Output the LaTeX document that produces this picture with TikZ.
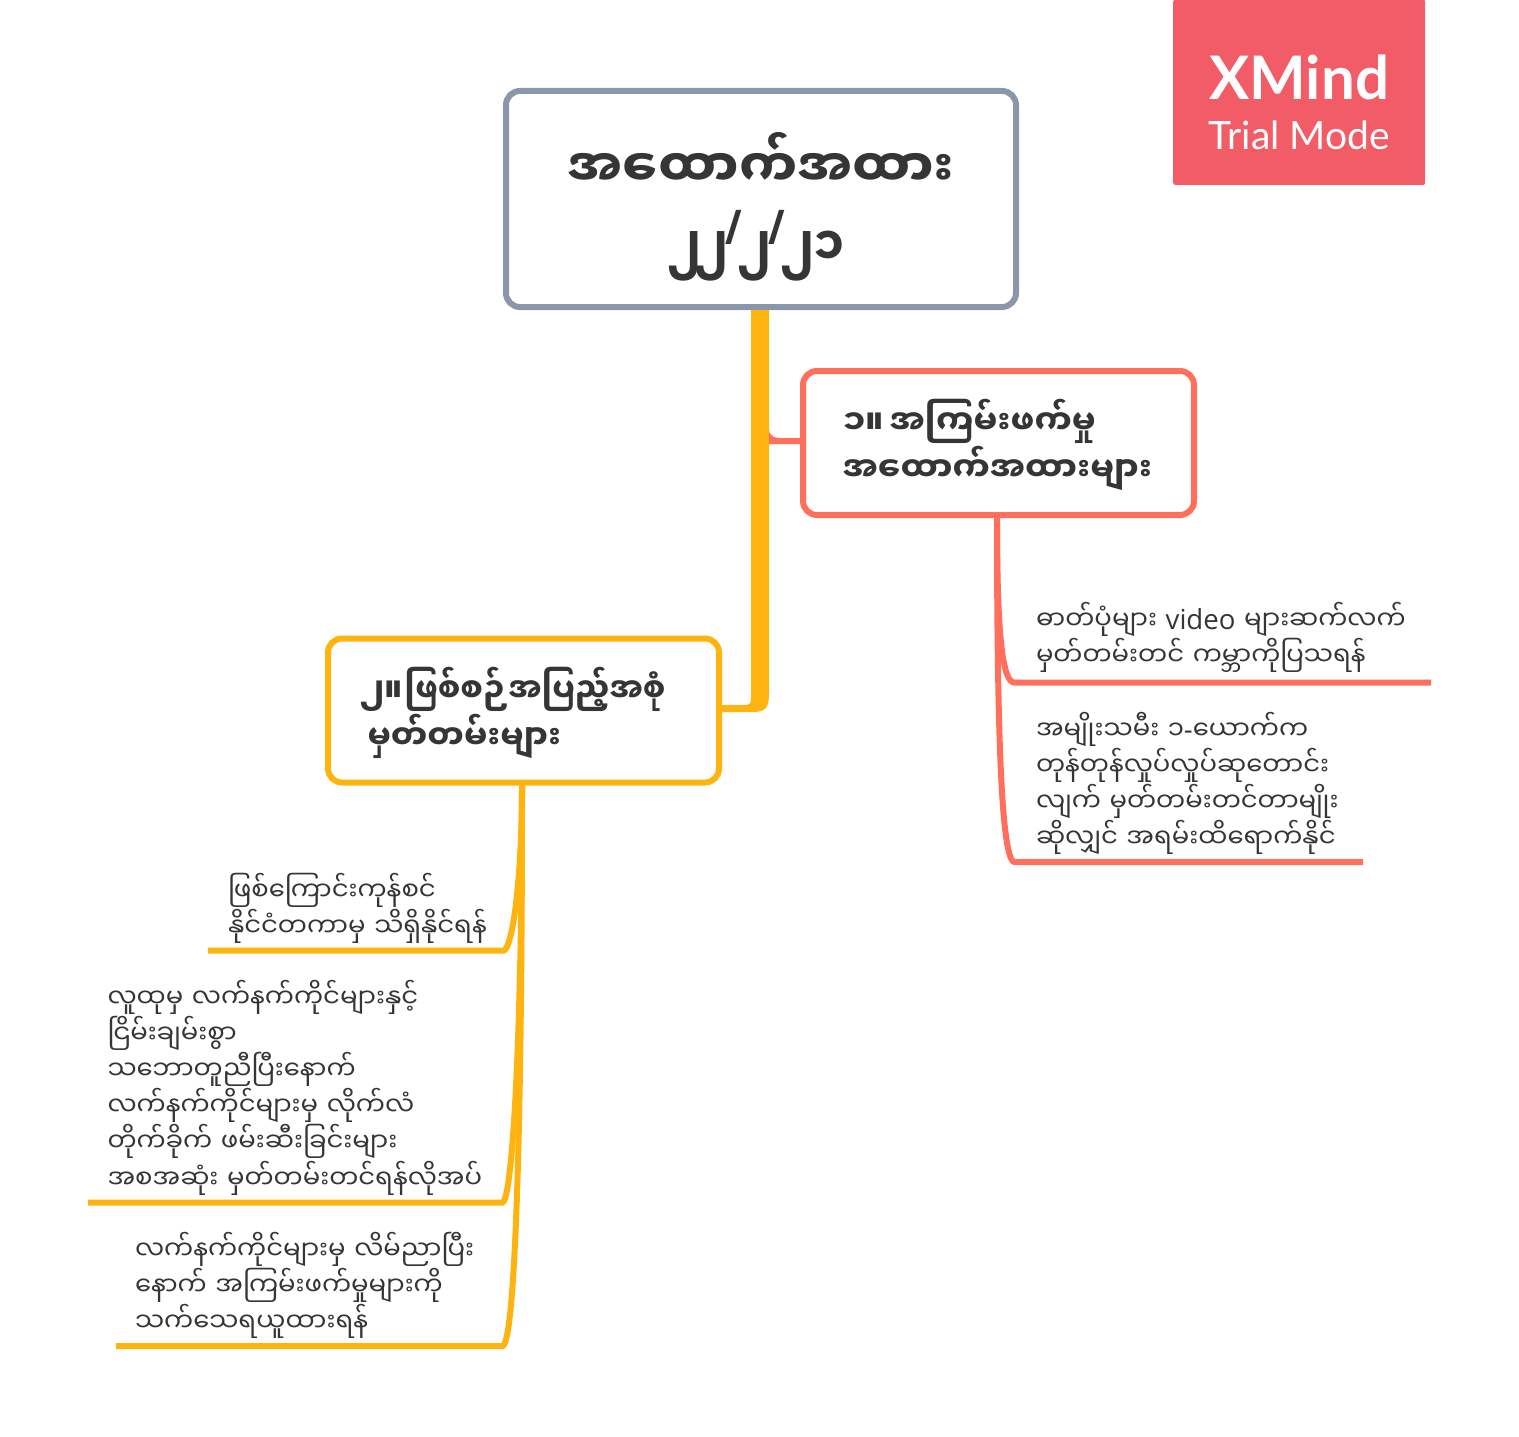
\documentclass[tikz,border=0pt]{standalone}
\usepackage{fontspec}
\setmainfont{Open Sans}
\newfontfamily\myanfont[Script=Myanmar]{Noto Sans Myanmar UI}
\newfontfamily\logofont{Lato}
\usepackage{tikz}
\usetikzlibrary{positioning}
\usetikzlibrary{calc}
\definecolor{rootline}{HTML}{8A96AA}
\definecolor{goldline}{HTML}{FFB30F}
\definecolor{coralline}{HTML}{FF6F5C}
\definecolor{logored}{HTML}{F25C66}
\definecolor{inktext}{HTML}{353535}
\newcommand{\dateslash}{\kern-2pt\smash{\raisebox{21pt}{\rmfamily\bfseries\fontsize{46}{46}\selectfont /}}\kern-6pt}
\newcommand{\latinbit}[1]{{\rmfamily\fontsize{27.6}{36.2}\selectfont #1}}
\newcommand{\fixedlines}{\lineskiplimit=-200pt\relax}
\tikzstyle{every node}+=[inner sep=0pt]
\tikzstyle{rootbox} = [rectangle, draw=rootline, fill=white, line width=6pt, rounded corners=14pt, text=inktext, font=\myanfont\fontsize{52.3}{79}\selectfont\bfseries, align=center, text width=500pt, minimum width=510pt, minimum height=216pt]
\tikzstyle{topicbox} = [rectangle, fill=white, line width=6pt, rounded corners=14pt, text=inktext, font=\myanfont\fontsize{33.5}{47}\selectfont\bfseries, align=left, minimum width=391pt, minimum height=144pt, text width=312pt]
\tikzstyle{leaf} = [rectangle, text=inktext, font=\myanfont\fontsize{25.9}{36.2}\selectfont, align=left]
\tikzstyle{branch} = [draw, line width=6pt]
\begin{document}
\begin{tikzpicture}[x=1pt, y=-1pt, node distance=2cm]
            \useasboundingbox (0,0) rectangle (1519,1437);
            % Place nodes
            \node [rootbox] (root) at (761,199) {\fixedlines အထောက်အထား\\\hspace*{-10pt}\scalebox{0.87}[1.04]{၂\kern-8pt ၂\dateslash ၂\dateslash ၂၁}\par\vspace*{-15pt}};
            \node [topicbox, draw=coralline, right of=root, node distance=237.5pt, yshift=-244pt] (topic1) {\fixedlines ၁။\kern-5pt\ အကြမ်းဖက်မှု\\အထောက်အထားများ\par\vspace*{-3.5pt}};
            \node [topicbox, draw=goldline, left of=root, node distance=237.5pt, yshift=-511.5pt] (topic2) {\fixedlines\hspace*{-8pt}၂။\kern-9pt~\scalebox{0.945}[1]{ဖြစ်စဉ်အပြည့်အစုံ}\\\scalebox{0.98}[1]{မှတ်တမ်းများ}\par\vspace*{-5pt}};
            \node [leaf, inner xsep=21pt, text width=374pt, minimum height=90pt, below of=topic1, node distance=194.5pt, xshift=224.5pt] (leaf1) {ဓာတ်ပုံများ \latinbit{video} များဆက်လက်\\မှတ်တမ်းတင် ကမ္ဘာကိုပြသရန်};
            \node [leaf, inner xsep=21pt, text width=306pt, minimum height=157pt, below of=topic1, node distance=340.5pt, xshift=190.5pt] (leaf2) {အမျိုးသမီး ၁\latinbit{-}ယောက်က\\တုန်တုန်လှုပ်လှုပ်ဆုတောင်း\\လျက် မှတ်တမ်းတင်တာမျိုး\\ဆိုလျှင်~အရမ်းထိရောက်နိုင်};
            \node [leaf, inner xsep=20pt, text width=255pt, minimum height=84pt, below of=topic2, node distance=198pt, xshift=-168pt] (leaf3) {ဖြစ်ကြောင်းကုန်စင်\\နိုင်ငံတကာမှ~သိရှိနိုင်ရန်};
            \node [leaf, inner xsep=19.5pt, text width=375pt, minimum height=230pt, below of=topic2, node distance=377pt, xshift=-228.5pt] (leaf4) {လူထုမှ လက်နက်ကိုင်များနှင့်\\ငြိမ်းချမ်းစွာ\\သဘောတူညီပြီးနောက်\\လက်နက်ကိုင်များမှ လိုက်လံ\\တိုက်ခိုက် ဖမ်းဆီးခြင်းများ\\အစအဆုံး~မှတ်တမ်းတင်ရန်လိုအပ်};
            \node [leaf, inner xsep=19pt, text width=348pt, minimum height=121pt, below of=topic2, node distance=575pt, xshift=-214.5pt] (leaf5) {လက်နက်ကိုင်များမှ~လိမ်ညာပြီး\\နောက် အကြမ်းဖက်မှုများကို\\သက်သေရယူထားရန်};
            \node [rectangle, fill=logored, rounded corners=2pt, minimum width=252pt, minimum height=185pt, above right=-97pt and 154pt of root.north east] (logo) {};
            \node [font=\logofont\fontsize{60}{60}\selectfont\bfseries, text=white] (logoa) at ($(logo.center)+(0,-15)$) {XMind};
            \node [font=\logofont\fontsize{39}{39}\selectfont, text=white] (logob) at ($(logo.center)+(0,43)$) {Trial Mode};
            % Draw edges
            \path [fill=coralline] ($(topic1.west)+(-31,-15)$) .. controls ($(topic1.west)+(-31,-7)$) and ($(topic1.west)+(-26.5,-5)$) .. ($(topic1.west)+(-19.5,-5)$) -- ($(topic1.west)+(0,-5)$) -- ($(topic1.west)+(0,1)$) -- ($(topic1.west)+(-31,1)$) -- cycle;
            \path [fill=goldline] ($(root.south)+(-10,0)$) -- ($(root.south)+(8,0)$) -- ($(root.south)+(8,384)$) .. controls ($(root.south)+(8,398)$) and ($(root.south)+(4,402)$) .. ($(root.south)+(-8,402)$) -- ($(topic2.east)+(0,1.5)$) -- ($(topic2.east)+(0,-5.5)$) -- ($(root.south)+(-14,395)$) .. controls ($(root.south)+(-11,395)$) and ($(root.south)+(-10,393)$) .. ($(root.south)+(-10,388)$) -- cycle;
            \path [branch, coralline] ($(topic1.south)+(-1.5,0)$) .. controls ($(topic1.south)+(-1.5,122)$) and ($(leaf1.south west)+(-12,0)$) .. (leaf1.south west) -- (leaf1.south east);
            \path [branch, coralline] ($(topic1.south)+(-1.5,0)$) .. controls ($(topic1.south)+(-1.5,243)$) and ($(leaf2.south west)+(-12,0)$) .. (leaf2.south west) -- (leaf2.south east);
            \path [branch, goldline] ($(topic2.south)+(-1.5,0)$) .. controls ($(topic2.south)+(-1.5,95)$) and ($(leaf3.south east)+(9,0)$) .. (leaf3.south east) -- (leaf3.south west);
            \path [branch, goldline] ($(topic2.south)+(-1.5,0)$) .. controls ($(topic2.south)+(-1.5,255)$) and ($(leaf4.south east)+(10,0)$) .. (leaf4.south east) -- (leaf4.south west);
            \path [branch, goldline] ($(topic2.south)+(-1.5,0)$) .. controls ($(topic2.south)+(-1.5,345)$) and ($(leaf5.south east)+(13,0)$) .. (leaf5.south east) -- (leaf5.south west);
          \end{tikzpicture}
\end{document}
